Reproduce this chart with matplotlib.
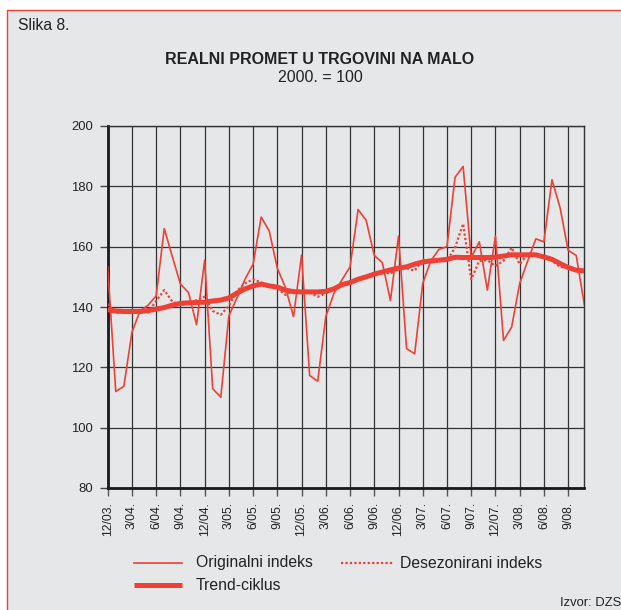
import matplotlib
matplotlib.use("Agg")
import matplotlib.pyplot as plt
from matplotlib.lines import Line2D
from matplotlib.patches import Rectangle
import numpy as np

plt.rcParams['font.family'] = ['Liberation Sans', 'DejaVu Sans']

# Monthly data, 12/2003 .. 11/2008
original = [153.3, 112.0, 113.7, 131.6, 138.7, 140.6, 143.7, 166.0, 156.7, 147.6,
            144.8, 134.1, 155.5, 112.9, 110.1, 137.1, 143.0, 149.2, 154.2, 169.8,
            165.2, 152.8, 146.5, 136.8, 157.2, 117.3, 115.4, 136.8, 144.5, 149.0,
            153.3, 172.3, 168.7, 157.1, 154.7, 142.1, 163.5, 126.2, 124.5, 147.8,
            155.3, 159.1, 160.0, 183.0, 186.6, 156.4, 161.6, 145.6, 163.5, 128.9,
            133.3, 147.8, 155.3, 162.6, 161.6, 182.2, 172.9, 158.8, 157.1, 140.8]
desezonirani = [141.0, 137.9, 138.7, 139.0, 139.0, 138.2, 142.0, 145.6, 141.8, 140.7,
                141.0, 142.3, 143.4, 138.7, 137.4, 140.4, 145.4, 147.8, 149.2, 148.1,
                147.3, 146.2, 144.0, 145.4, 144.8, 144.8, 143.4, 144.5, 146.2, 147.5,
                148.0, 149.5, 150.0, 151.0, 152.0, 151.0, 153.0, 152.9, 152.0, 155.8,
                154.7, 155.3, 155.3, 159.7, 167.6, 149.2, 155.3, 155.5, 153.6, 155.3,
                159.7, 154.2, 157.7, 157.5, 156.6, 155.3, 153.3, 152.9, 152.2, 151.8]
trend = [139.1, 138.7, 138.5, 138.5, 138.5, 138.8, 139.3, 139.8, 140.6, 141.2,
         141.4, 141.5, 141.6, 142.0, 142.3, 143.0, 144.6, 146.0, 147.0, 147.6,
         147.0, 146.6, 145.6, 145.1, 145.0, 145.0, 145.0, 145.2, 146.0, 147.4,
         148.1, 149.2, 150.0, 150.9, 151.6, 152.3, 152.9, 153.3, 154.2, 154.9,
         155.3, 155.5, 155.8, 156.5, 156.4, 156.4, 156.4, 156.4, 156.5, 156.9,
         157.3, 157.3, 157.3, 157.3, 156.6, 155.8, 154.4, 153.1, 152.2, 152.0]
tick_labels = ["12/03.", "3/04.", "6/04.", "9/04.", "12/04.", "3/05.", "6/05.",
               "9/05.", "12/05.", "3/06.", "6/06.", "9/06.", "12/06.", "3/07.",
               "6/07.", "9/07.", "12/07.", "3/08.", "6/08.", "9/08."]
y_ticks = [80, 100, 120, 140, 160, 180, 200]

W, H = 621, 610
BG = '#e6e7e9'
RED = '#ee4035'
TXT = '#222222'

fig = plt.figure(figsize=(W / 100, H / 100), dpi=100)
fig.patch.set_facecolor('white')
fig.add_artist(Rectangle((6.5 / W, -0.05), 1.2, 1 - 9.5 / H + 0.05,
                         transform=fig.transFigure, facecolor=BG,
                         edgecolor=RED, linewidth=1.0, zorder=0))

ax = fig.add_axes([107.7 / W, 1 - 488 / H, (584.3 - 107.7) / W, (488 - 126) / H])
ax.set_facecolor('none')

x = np.arange(len(original))
ax.plot(x, trend, color=RED, lw=3.6, solid_capstyle='butt', zorder=3)
ax.plot(x, desezonirani, color=RED, lw=1.6, linestyle=(0, (1, 1)), zorder=4)
ax.plot(x, original, color=RED, lw=1.2, zorder=5)

ax.set_xlim(0, len(original) - 1)
ax.set_ylim(80, 200)
ax.set_yticks(y_ticks)
ax.set_xticks(np.arange(0, len(original), 3)[:len(tick_labels)])
ax.set_xticklabels(tick_labels, rotation=90, fontsize=8.7, color=TXT)
ax.tick_params(axis='y', labelsize=9.4, labelcolor=TXT, length=5.5,
               width=1.0, color='#444444', pad=5)
ax.tick_params(axis='x', length=6, width=1.0, color='#555555', pad=4)
ax.grid(True, color='#333333', lw=0.9)
ax.set_axisbelow(True)
for s in ['top', 'right']:
    ax.spines[s].set_color('#333333')
    ax.spines[s].set_linewidth(1.0)
for s in ['left', 'bottom']:
    ax.spines[s].set_color('#1a1a1a')
    ax.spines[s].set_linewidth(2.0)

# Texts
fig.text(18 / W, 1 - 25 / H, "Slika 8.", fontsize=11.3, color=TXT,
         va='center', ha='left')
fig.text(320 / W, 1 - 60 / H, "REALNI PROMET U TRGOVINI NA MALO", fontsize=11.5,
         fontweight='bold', color=TXT, ha='center', va='center')
fig.text(320 / W, 1 - 77 / H, "2000. = 100", fontsize=11.5, color=TXT,
         ha='center', va='center')

# Legend
def legend_item(x0, x1, y, tx, label, **kw):
    fig.add_artist(Line2D([x0 / W, x1 / W], [1 - y / H, 1 - y / H],
                          transform=fig.transFigure, color=RED, **kw))
    fig.text(tx / W, 1 - y / H, label, fontsize=11.3, color=TXT,
             ha='left', va='center')

legend_item(134, 182, 563, 196, "Originalni indeks", lw=1.2)
legend_item(341, 393, 563, 400, "Desezonirani indeks", lw=1.6, linestyle=(0, (1, 1)))
legend_item(134, 182, 585, 196, "Trend-ciklus", lw=3.6, solid_capstyle='butt')

fig.text(621 / W, 1 - 603 / H, "Izvor: DZS", fontsize=9.4, color=TXT,
         ha='right', va='center')

fig.savefig("out.png", dpi=100, facecolor=fig.get_facecolor())
